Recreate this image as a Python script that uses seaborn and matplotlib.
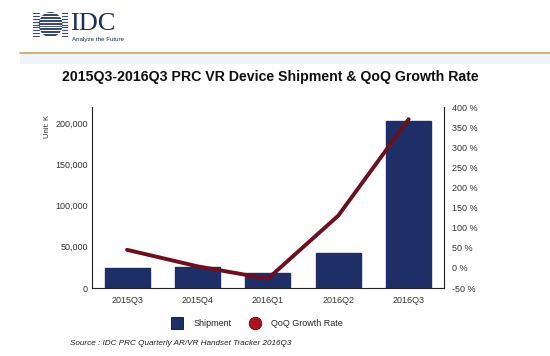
import numpy as np
import pandas as pd
import matplotlib.pyplot as plt
import seaborn as sns
from matplotlib.patches import Circle, Rectangle
from matplotlib.lines import Line2D

quarters = ['2015Q3', '2015Q4', '2016Q1', '2016Q2', '2016Q3']
shipment = [24000, 25000, 18000, 42500, 202000]   # Unit: K
qoq_growth = [45, 4, -27, 130, 370]               # %

navy = '#1d2f66'
maroon = '#6e0f1e'

sns.set_style('white')
plt.rcParams['font.family'] = ['Liberation Sans', 'DejaVu Sans']

df = pd.DataFrame({'quarter': quarters, 'shipment': shipment, 'qoq': qoq_growth})

fig = plt.figure(figsize=(5.5, 3.56), dpi=100)
ax = fig.add_axes([0.167, 0.191, 0.64, 0.508])

sns.barplot(data=df, x='quarter', y='shipment', color=navy, width=0.64,
            saturation=1, edgecolor=navy, ax=ax)
ax.set_xlim(-0.5, 4.5)
ax.set_ylim(0, 219000)
ax.set_yticks([0, 50000, 100000, 150000, 200000])
ax.set_yticklabels(['0', '50,000', '100,000', '150,000', '200,000'])
ax.set_xlabel('')
ax.set_ylabel('')
ax.tick_params(axis='x', length=0, labelsize=6.5, colors='#333333', pad=6)
ax.tick_params(axis='y', length=0, labelsize=6.5, colors='#333333', pad=3)

ax2 = ax.twinx()
sns.lineplot(x=np.arange(len(quarters)), y=df['qoq'], color=maroon, linewidth=2.8, ax=ax2)
ax2.set_ylim(-50, 400)
ax2.set_yticks(range(-50, 401, 50))
ax2.set_yticklabels([f'{v} %' for v in range(-50, 401, 50)])
ax2.set_ylabel('')
ax2.tick_params(axis='y', length=0, labelsize=6.5, colors='#333333', pad=6)

for a in (ax, ax2):
    a.spines['top'].set_visible(False)
    for s in ('left', 'bottom', 'right'):
        a.spines[s].set_color('#222222')
        a.spines[s].set_linewidth(0.8)
ax.spines['right'].set_visible(False)
ax2.spines['left'].set_visible(False)
ax2.spines['bottom'].set_visible(False)

fig.text(0.086, 0.645, 'Unit: K', rotation=90, fontsize=5.5, color='#333333', va='center', ha='center')

fig.text(0.491, 0.783, '2015Q3-2016Q3 PRC VR Device Shipment & QoQ Growth Rate',
         fontsize=10.2, fontweight='bold', ha='center', va='center', color='#111111')

# legend
handles = [Line2D([0], [0], marker='s', linestyle='', markersize=8.5,
                  markerfacecolor=navy, markeredgecolor='#111111', markeredgewidth=0.6),
           Line2D([0], [0], marker='o', linestyle='', markersize=9,
                  markerfacecolor='#b0101c', markeredgecolor='#5a0a10', markeredgewidth=0.6)]
fig.legend(handles, ['Shipment', 'QoQ Growth Rate'], loc='center', bbox_to_anchor=(0.465, 0.092),
           ncol=2, frameon=False, fontsize=6.5, handletextpad=0.8, columnspacing=1.6)

fig.text(0.127, 0.036, 'Source : IDC PRC Quarterly AR/VR Handset Tracker 2016Q3',
         fontsize=5.85, style='italic', color='#222222', va='center')

# header logo
fig.add_artist(Line2D([0.036, 1.0], [0.851, 0.851], color='#c9a35a', linewidth=1.2,
                      transform=fig.transFigure))
fig.add_artist(Rectangle((0.036, 0.82), 0.964, 0.029, transform=fig.transFigure,
                         facecolor='#eef4f9', edgecolor='none'))
logo_ax = fig.add_axes([0.06, 0.896, 0.064, 0.07])
logo_ax.set_xlim(-1.5, 1.5)
logo_ax.set_ylim(-1, 1)
logo_ax.axis('off')
circ = Circle((0, 0), 0.95, color='#1c2e60')
logo_ax.add_patch(circ)
for yy in np.linspace(-0.9, 0.9, 9):
    logo_ax.plot([-1.5, 1.5], [yy, yy], color='white', linewidth=0.9)
    logo_ax.plot([-1.5, -1.0], [yy, yy], color='#3a4a7a', linewidth=0.8)
    logo_ax.plot([1.0, 1.5], [yy, yy], color='#3a4a7a', linewidth=0.8)
fig.text(0.127, 0.933, 'IDC', fontsize=19, family=['Liberation Serif', 'DejaVu Serif'],
         color='#1c2e60', va='center', ha='left')
fig.text(0.131, 0.889, 'Analyze the Future', fontsize=4.5, color='#1c2e60', va='center', ha='left')

fig.savefig('out.png', dpi=100)
